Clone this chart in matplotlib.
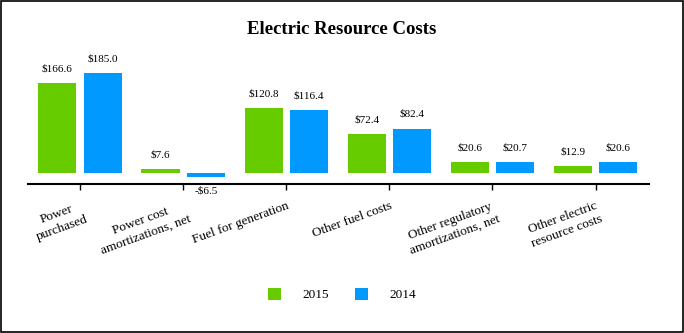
import matplotlib.pyplot as plt
from matplotlib.patches import Rectangle
import numpy as np

plt.rcParams['font.family'] = ['Liberation Serif', 'DejaVu Serif']

# data
categories = ['Power\npurchased', 'Power cost\namortizations, net', 'Fuel for generation',
              'Other fuel costs', 'Other regulatory\namortizations, net',
              'Other electric\nresource costs']
v2015 = [166.6, 7.6, 120.8, 72.4, 20.6, 12.9]
v2014 = [185.0, -6.5, 116.4, 82.4, 20.7, 20.6]
series_names = ['2015', '2014']
colors = ['#66CC00', '#0099FF']

fig = plt.figure(figsize=(6.84, 3.33), dpi=100)
ax = fig.add_axes([0.041, 0.447, 0.908, 0.403])

x = np.arange(len(categories))
w = 0.37
off = 0.22
bars1 = ax.bar(x - off, v2015, w, color=colors[0], label=series_names[0])
bars2 = ax.bar(x + off, v2014, w, color=colors[1], label=series_names[1])


def fmt(v):
    return ('-$%.1f' % abs(v)) if v < 0 else ('$%.1f' % v)


for bars, vals in [(bars1, v2015), (bars2, v2014)]:
    for b, v in zip(bars, vals):
        cx = b.get_x() + b.get_width() / 2
        if v >= 0:
            ax.annotate(fmt(v), (cx, v), xytext=(0, 7), textcoords='offset points',
                        ha='center', va='bottom', fontsize=8)
        else:
            ax.annotate(fmt(v), (cx, v), xytext=(0, -7), textcoords='offset points',
                        ha='center', va='top', fontsize=8)

ax.set_xlim(-0.505, 5.52)
ax.set_ylim(-20.4, 228)
ax.set_yticks([])
for s in ['top', 'right', 'left']:
    ax.spines[s].set_visible(False)
ax.spines['bottom'].set_linewidth(1.5)
ax.set_xticks(x)
ax.set_xticklabels(categories, rotation=20, ha='right', fontsize=9.5, multialignment='center',
                   rotation_mode='anchor', linespacing=1.3)
ax.tick_params(axis='x', length=4, width=1, pad=7)

fig.text(0.5, 0.91, 'Electric Resource Costs', ha='center', va='center',
         fontsize=13.5, fontweight='bold')

fig.legend(loc='center', bbox_to_anchor=(0.5, 0.115), ncol=2, frameon=False,
           fontsize=9.5, handlelength=1.0, handleheight=1.0, handletextpad=1.6,
           columnspacing=2.0)

fig.add_artist(Rectangle((0.002, 0.003), 0.996, 0.994, transform=fig.transFigure,
                         fill=False, edgecolor='black', linewidth=1.2))

plt.savefig('out.png', dpi=100)
